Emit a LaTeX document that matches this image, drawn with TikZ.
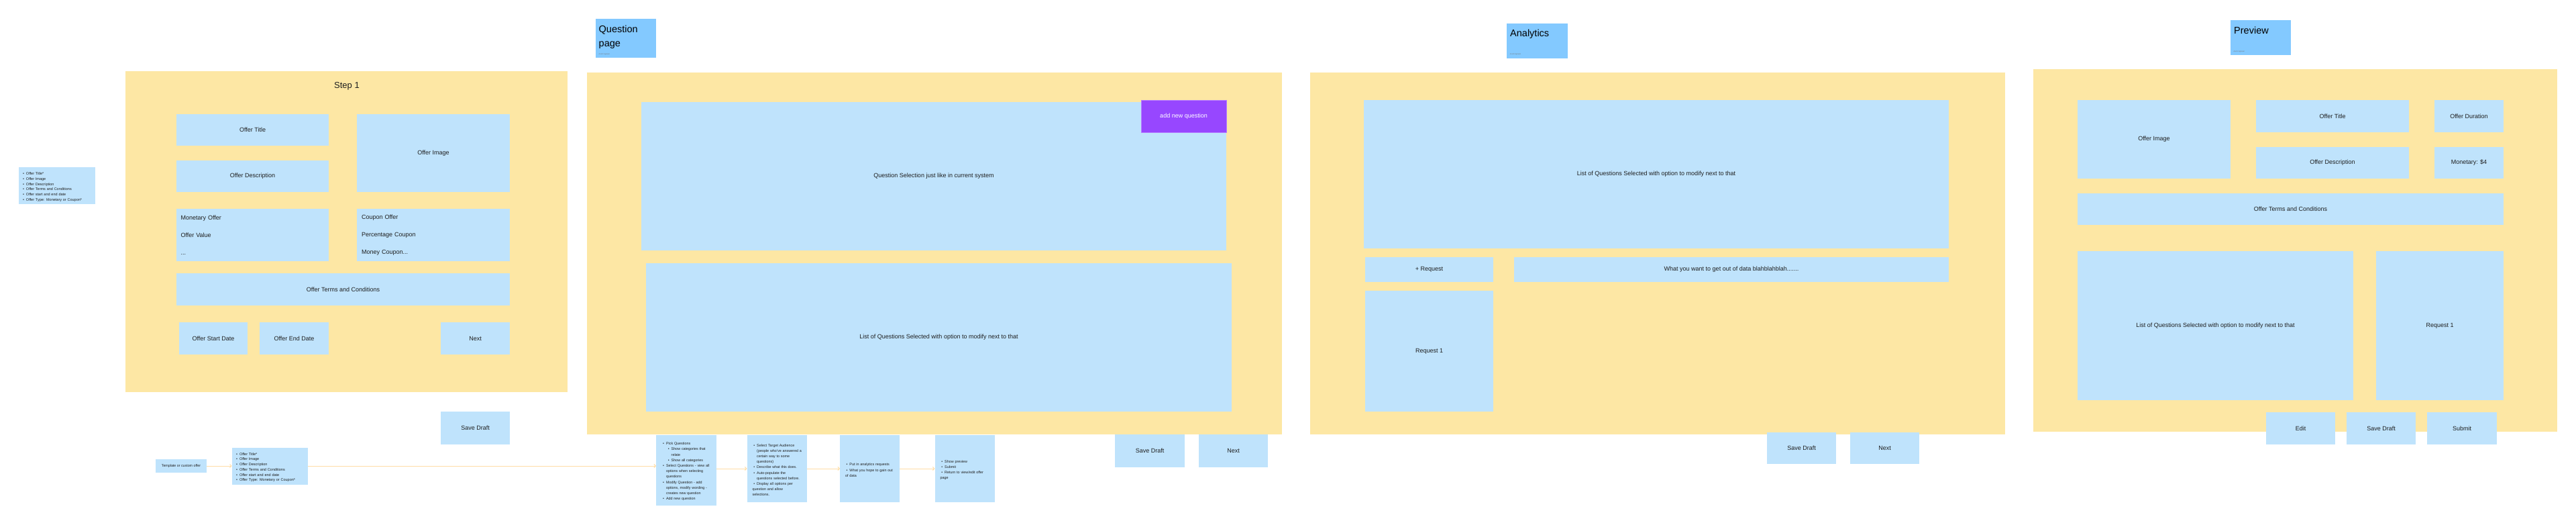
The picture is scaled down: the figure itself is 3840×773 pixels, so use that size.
\documentclass[tikz,border=0pt]{standalone}
\usepackage{fontspec}
\setmainfont{Liberation Sans}
\usetikzlibrary{arrows.meta}
\definecolor{frameY}{HTML}{FDE7A4}
\definecolor{boxB}{HTML}{BFE3FC}
\definecolor{stickB}{HTML}{83C9FF}
\definecolor{purp}{HTML}{9747FF}
\definecolor{purpE}{HTML}{B57BFF}
\definecolor{arr}{HTML}{FFDDA6}
\definecolor{ink}{HTML}{1E1E1E}
\newcommand\fs[2]{\fontsize{#1}{#2}\selectfont}
\newcommand\li[2]{\par\noindent\hangindent=#1pt\hangafter=1\relax\hbox to #1pt{\hfil\textbullet\hskip3pt}#2}
\tikzset{
  box/.style={fill=boxB,draw=none,inner sep=0pt,outer sep=0pt,anchor=north west,text=ink,font=\fs{9}{11},align=center},
  frame/.style={box,fill=frameY},
  sticky/.style={box,fill=stickB},
  purpbtn/.style={box,fill=purp,draw=purpE,line width=0.8pt,text=white},
  leftbox/.style={align=left,font=\fs{9}{26}},
  listbox/.style={align=left,font={\fs{5.4}{8.2}\parindent0pt\parskip0pt}},
  stitle/.style={anchor=north west,inner sep=0pt,align=left,text=black,font=\fs{14.5}{21}},
  author/.style={anchor=west,inner sep=0pt,text=black!55,font=\fs{2.4}{3}},
  conn/.style={draw=arr,line width=1pt,-{Straight Barb[length=2.5pt,width=5pt]}}
}
% box from (x1,y1) to (x2,y2) in pixels
\newcommand\bx[7][]{%
  \pgfmathsetmacro\bxw{#5-#3}\pgfmathsetmacro\bxh{#6-#4}%
  \node[box,minimum width=\bxw pt,minimum height=\bxh pt,#1] (#2) at (#3,#4) {#7};}
% list box with padding
\newcommand\lbx[8][]{%
  \pgfmathsetmacro\bxw{#5-#3}\pgfmathsetmacro\bxh{#6-#4}\pgfmathsetmacro\bxt{#5-#3-2*#7}%
  \node[box,listbox,minimum width=\bxw pt,minimum height=\bxh pt,text width=\bxt pt,inner xsep=#7pt,#1] (#2) at (#3,#4) {#8};}
\begin{document}
\begin{tikzpicture}[x=1pt,y=-1pt]
\useasboundingbox[fill=white] (0,0) rectangle (3840,773);

% ---------- left notes ----------
\lbx[font={\fs{5.5}{7.7}\parindent0pt\parskip0pt}]{leftlist}{27.7}{249.3}{141.7}{304}{5}{%
\li{6.3}{Offer Title*}\li{6.3}{Offer Image}\li{6.3}{Offer Description}\li{6.3}{Offer Terms and Conditions}\li{6.3}{Offer start and end date}\li{6.3}{Offer Type: Monetary or Coupon*}}

% ---------- Step 1 ----------
\bx[frame]{s1frame}{187}{106}{846}{584}{}
\node[font=\fs{13}{15},text=ink,inner sep=0pt] (s1title) at (517,128) {Step 1};
\bx{otitle}{263}{170}{490}{217}{Offer Title}
\bx{oimage}{532}{170}{760}{286}{Offer Image}
\bx{odesc}{263}{239}{490}{286}{Offer Description}
\bx[leftbox,text width=214pt,inner xsep=6.5pt]{monet}{263}{311}{490}{389}{Monetary Offer\\Offer Value\\...}
\bx[leftbox,text width=214pt,inner xsep=6.5pt]{coupon}{532}{311}{760}{389}{Coupon Offer\\Percentage Coupon\\Money Coupon...}
\bx{terms}{263}{407}{760}{455}{Offer Terms and Conditions}
\bx{sdate}{267}{480}{369}{528}{Offer Start Date}
\bx{edate}{387}{480}{490}{528}{Offer End Date}
\bx{next1}{657}{480}{760}{528}{Next}
\bx{save1}{657}{613}{760}{662}{Save Draft}

% ---------- Question page ----------
\bx[sticky]{qsticky}{888}{28.5}{978}{86.3}{}
\node[stitle] (qtitle) at (892.5,37.5) {Question\\page};
\node[author] (qauth) at (892.5,80.8) {Arushi Agrawal};
\bx[frame]{qframe}{875}{108}{1911}{647}{}
\bx{qsel}{956}{152}{1828}{373}{Question Selection just like in current system}
\bx[purpbtn]{addq}{1701}{149}{1828}{197}{add new question}
\bx{qlist}{963}{392}{1836}{613}{List of Questions Selected with option to modify next to that}
\bx{save2}{1662}{647}{1766}{696}{Save Draft}
\bx{next2}{1787}{647}{1890}{696}{Next}

% ---------- Analytics ----------
\bx[sticky]{asticky}{2246}{35}{2337}{87}{}
\node[stitle] (atitle) at (2251,44) {Analytics};
\node[author] (aauth) at (2250.7,80.7) {Arushi Agrawal};
\bx[frame]{aframe}{1953}{108}{2989}{647}{}
\bx{alist}{2033}{149}{2905}{370}{List of Questions Selected with option to modify next to that}
\bx{areq}{2035}{383}{2226}{420}{+ Request}
\bx{awant}{2257}{383}{2905}{420}{What you want to get out of data blahblahblah.......}
\bx{areqone}{2035}{433}{2226}{613}{Request 1}
\bx{save3}{2634}{644}{2737}{691}{Save Draft}
\bx{next3}{2758}{644}{2861}{691}{Next}

% ---------- Preview ----------
\bx[sticky]{psticky}{3325}{30.5}{3415}{82.5}{}
\node[stitle] (ptitle) at (3330,40) {Preview};
\node[author] (pauth) at (3329.3,76.7) {Arushi Agrawal};
\bx[frame]{pframe}{3031}{103}{3812}{643}{}
\bx{pimg}{3097}{149}{3325}{266}{Offer Image}
\bx{ptit}{3363}{149}{3591}{197}{Offer Title}
\bx{pdur}{3629}{149}{3732}{197}{Offer Duration}
\bx{pdesc}{3363}{219}{3591}{266}{Offer Description}
\bx{pmon}{3629}{219}{3732}{266}{Monetary: \$4}
\bx{pterms}{3097}{288}{3732}{335}{Offer Terms and Conditions}
\bx{plist}{3097}{374}{3508}{596}{List of Questions Selected with option to modify next to that}
\bx{preq}{3542}{374}{3732}{596}{Request 1}
\bx{pedit}{3378}{614}{3481}{662}{Edit}
\bx{psave}{3498}{614}{3601}{662}{Save Draft}
\bx{psub}{3618}{614}{3722}{662}{Submit}

% ---------- bottom flow ----------
\bx[font=\fs{5.3}{6.5}]{tpl}{231.7}{684}{308.3}{704}{Template or custom offer}
\lbx[font={\fs{5.5}{7.7}\parindent0pt\parskip0pt}]{olist}{345.7}{666.7}{459.3}{721.7}{5}{%
\li{6.3}{Offer Title*}\li{6.3}{Offer Image}\li{6.3}{Offer Description}\li{6.3}{Offer Terms and Conditions}\li{6.3}{Offer start and end date}\li{6.3}{Offer Type: Monetary or Coupon*}}
\lbx{pick}{978}{648}{1068}{752.5}{8}{%
\li{7}{Pick Questions}%
\li{14.7}{Show categories that\newline relate}%
\li{14.7}{Show all categories}%
\li{7}{Select Questions - view all\newline options when selecting\newline questions}%
\li{7}{Modify Question - add\newline options, modify wording -\newline creates new question}%
\li{7}{Add new question}}
\lbx{aud}{1113.6}{648}{1203.2}{748}{8}{%
\li{6.6}{Select Target Audience\newline (people who've answered a\newline certain way to some\newline questions)}%
\li{6.6}{Describe what this does.}%
\li{6.6}{Auto-populate the\newline questions selected before.}%
\li{6.6}{Display all options per\newline question and allow\newline selections.}}
\lbx{anr}{1252}{648}{1341.4}{748}{8}{%
\li{6.4}{Put in analytics requests}%
\li{6.4}{What you hope to gain out\newline of data}}
\lbx{prv}{1393.6}{648}{1483.2}{748}{8}{%
\li{6.6}{Show preview}%
\li{6.6}{Submit}%
\li{6.6}{Return to view/edit offer\newline page}}

\draw[conn] (tpl.east) -- (olist.west |- tpl.east);
\draw[conn] (olist.east |- tpl.east) -- (pick.west |- tpl.east);
\draw[conn] (pick.east |- aud.west) -- (aud.west);
\draw[conn] (aud.east) -- (anr.west);
\draw[conn] (anr.east) -- (prv.west);
\end{tikzpicture}
\end{document}
